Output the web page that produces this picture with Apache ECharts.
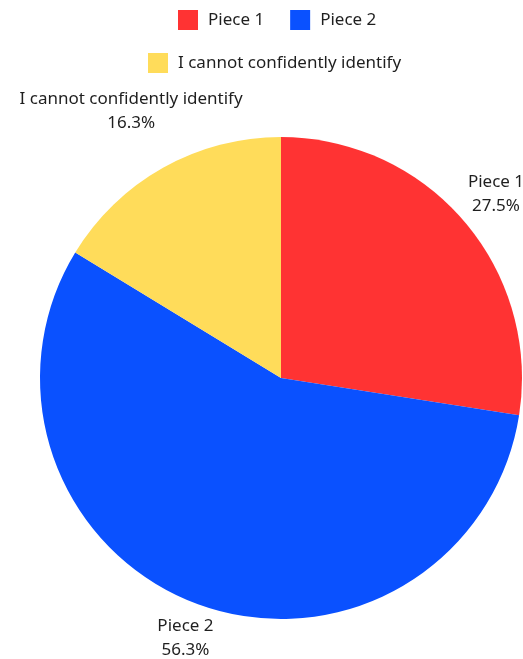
<!DOCTYPE html>
<html>
<head>
<meta charset="utf-8">
<style>
  html, body { margin: 0; padding: 0; background: #ffffff; }
  #chart { width: 523px; height: 659px; }
</style>
<script src="https://cdn.jsdelivr.net/npm/echarts@6/dist/echarts.min.js"></script>
</head>
<body>
<div id="chart"></div>
<script>
// Share of answers per option
const categories = ['Piece 1', 'Piece 2', 'I cannot confidently identify'];
const shares = [27.5, 56.3, 16.3];
const colors = ['#FF3333', '#0A51FF', '#FFDC5A'];

const FONT = '"Noto Sans", sans-serif';
const CX = 281, CY = 378, R = 241, LABEL_GAP = 5;

const chart = echarts.init(document.getElementById('chart'));
const total = shares.reduce((a, b) => a + b, 0);

// Mid-angle of each slice, measured clockwise from 12 o'clock
function midAngle(i) {
  let before = 0;
  for (let k = 0; k < i; k++) before += shares[k];
  return ((before + shares[i] / 2) / total) * Math.PI * 2;
}

// Place each label box along its slice's mid-angle so that the box's
// nearest point sits just outside the rim.
function placeLabel(params) {
  const a = midAngle(params.dataIndex);
  const ux = Math.sin(a), uy = -Math.cos(a);
  const hw = params.labelRect.width / 2, hh = params.labelRect.height / 2;
  const target = R + LABEL_GAP;
  let lo = 0, hi = 800;
  for (let n = 0; n < 50; n++) {
    const t = (lo + hi) / 2;
    const dx = Math.max(0, Math.abs(ux * t) - hw);
    const dy = Math.max(0, Math.abs(uy * t) - hh);
    if (Math.hypot(dx, dy) < target) lo = t; else hi = t;
  }
  const t = (lo + hi) / 2;
  return {
    x: CX + ux * t,
    y: CY + uy * t,
    align: 'center',
    verticalAlign: 'middle'
  };
}

const legendText = { fontFamily: FONT, fontSize: 17, color: '#1f1f1f', padding: [0, 0, 0, 5] };

chart.setOption({
  animation: false,
  color: colors,
  legend: [
    {
      data: categories.slice(0, 2),
      top: 5,
      left: 173,
      itemWidth: 20,
      itemHeight: 20,
      itemGap: 26,
      icon: 'rect',
      textStyle: legendText
    },
    {
      data: categories.slice(2),
      top: 48,
      left: 143,
      itemWidth: 20,
      itemHeight: 20,
      icon: 'rect',
      textStyle: legendText
    }
  ],
  series: [{
    type: 'pie',
    center: [CX, CY],
    radius: [0, R],
    startAngle: 90,
    clockwise: true,
    data: categories.map((name, i) => ({ name, value: shares[i] })),
    label: {
      show: true,
      position: 'outside',
      overflow: 'none',
      formatter: p => p.name + '\n' + p.value.toFixed(1) + '%',
      fontFamily: FONT,
      fontSize: 17,
      lineHeight: 24,
      color: '#1f1f1f',
      align: 'center'
    },
    labelLine: { show: false },
    labelLayout: placeLabel,
    emphasis: { disabled: true }
  }]
});
</script>
</body>
</html>
